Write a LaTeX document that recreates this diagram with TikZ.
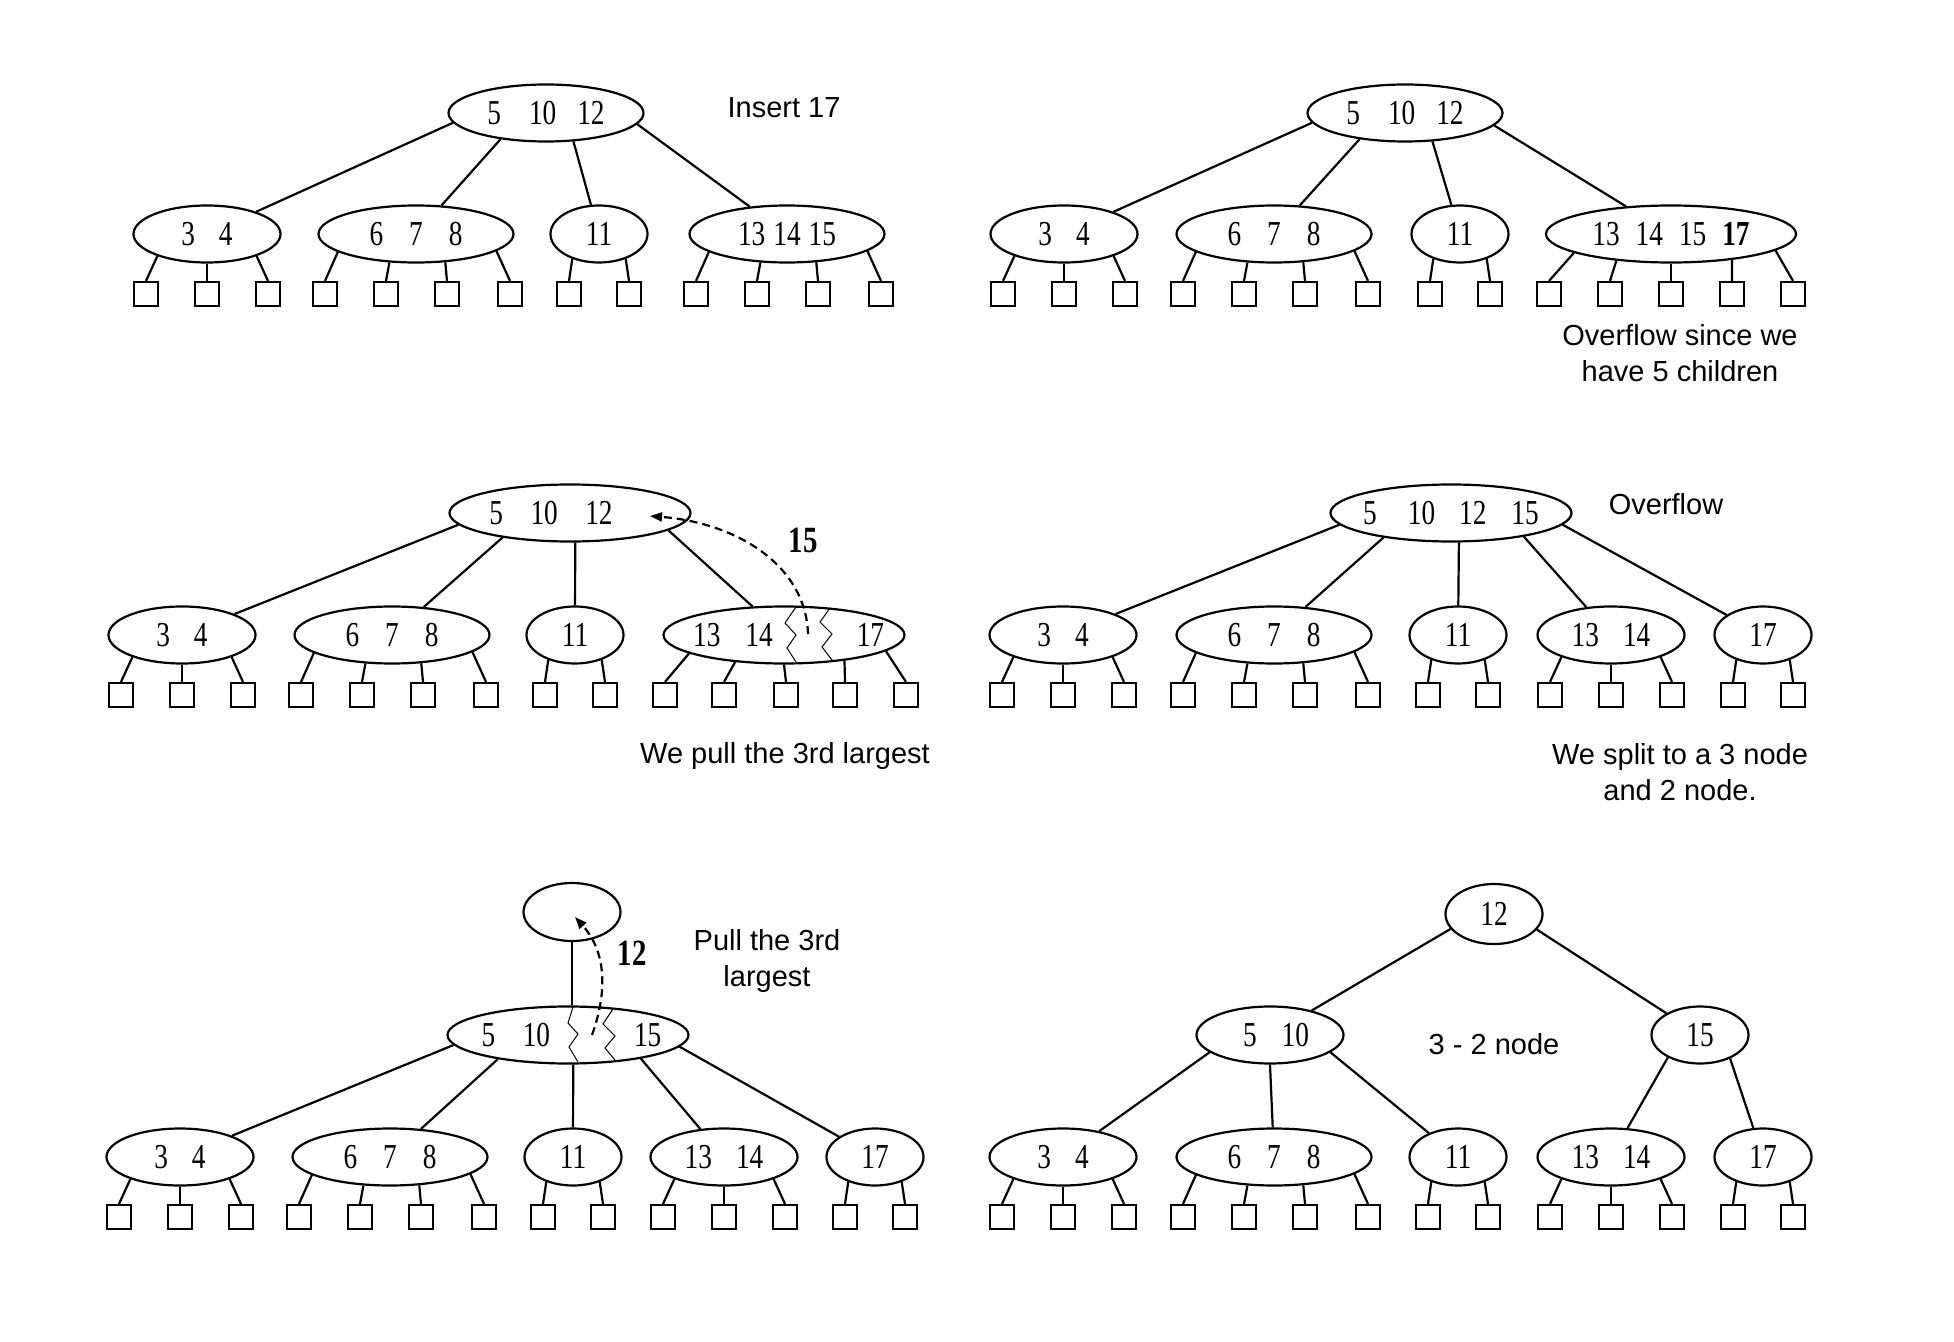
\documentclass[tikz,border=0pt]{standalone}
\usepackage{fontspec}
\setmainfont{Liberation Serif}[FakeStretch=0.78]
\newfontfamily\notefont{Liberation Sans}
\usepackage{tikz}
\usetikzlibrary{shapes.geometric,arrows.meta,calc}

\newcommand{\numfont}{\fontsize{17.5}{20}\selectfont}
\newcommand{\leafsone}{-30/223,30/317}
\newcommand{\leafstwo}{-61/204,0/270,61/336}
\newcommand{\leafsthree}{-91/193,-30/227,31/316,94/348}
\newcommand{\leafsfour}{-122/191,-61/206,0/270,61/337,122/351}
\newcommand{\leafswide}{-119/191,-60/209,2/270,61/337,122/351}
\newcommand{\leafrow}[2]{%
  \foreach \dx/\ang [count=\i] in #2 {
    \node[leaf] (#1-\i) at ($(#1)+(\dx,60)$) {};
    \draw (#1.\ang) -- (#1-\i.north);
  }}

\begin{document}
\begin{tikzpicture}[x=0.5pt,y=-0.5pt,line width=1.1pt,
    knode/.style={draw,ellipse,inner xsep=-40pt,inner ysep=0pt,minimum height=28.5pt,font=\numfont},
    onekey/.style={knode,minimum width=48.5pt},
    twokey/.style={knode,minimum width=73.5pt},
    threekey/.style={knode,minimum width=97.5pt},
    widekey/.style={knode,minimum width=120.5pt},
    fourkey/.style={knode,minimum width=125pt},
    leaf/.style={draw,rectangle,inner sep=0pt,minimum size=12pt},
    remark/.style={font=\notefont\fontsize{14.5}{18}\selectfont,align=center,inner sep=0pt},
    moved/.style={font=\fontsize{18.5}{20}\selectfont\bfseries,inner sep=0pt},
    pulled/.style={dash pattern=on 4pt off 2.5pt,-{Triangle[length=6pt,width=4.5pt]}},
    split/.style={line width=0.5pt}]
  \useasboundingbox (0,0) rectangle (1954,1342);

  % insert 17
  \node[threekey] (ra) at (546,113) {5\hspace{14pt}10\hspace{10.5pt}12};
  \node[twokey] (a34) at (207,234) {3\hspace{12pt}4};
  \node[threekey] (a678) at (416,234) {6\hspace{13pt}7\hspace{13pt}8};
  \node[onekey] (a11) at (599,234) {11};
  \node[threekey] (a1315) at (787,234) {13\hspace{4pt}14\hspace{4pt}15};
  \node[remark] (insert) at (784,108) {Insert 17};
  \draw (ra.186) -- (a34);
  \draw (ra.210) -- (a678);
  \draw (ra.314) -- (a11);
  \draw (ra.353) -- (a1315);
  \leafrow{a34}{\leafstwo}
  \leafrow{a678}{\leafsthree}
  \leafrow{a11}{\leafsone}
  \leafrow{a1315}{\leafsthree}

  % overflow
  \node[threekey] (rb) at (1405,113) {5\hspace{14pt}10\hspace{10.5pt}12};
  \node[twokey] (b34) at (1064,234) {3\hspace{12pt}4};
  \node[threekey] (b678) at (1274,234) {6\hspace{13pt}7\hspace{13pt}8};
  \node[onekey] (b11) at (1460,234) {11};
  \node[fourkey] (b1317) at (1671,234) {13\hspace{8pt}14\hspace{8pt}15\hspace{8pt}\textbf{17}};
  \node[remark] (fivechildren) at (1680,353) {Overflow since we\\have 5 children};
  \draw (rb.186) -- (b34);
  \draw (rb.210) -- (b678);
  \draw (rb.314) -- (b11);
  \draw (rb.352) -- (b1317);
  \leafrow{b34}{\leafstwo}
  \leafrow{b678}{\leafsthree}
  \leafrow{b11}{\leafsone}
  \leafrow{b1317}{\leafsfour}

  % pull 15
  \node[widekey] (rc) at (570,513) {5\hspace{13.75pt}10\hspace{13.75pt}12\kern19pt};
  \node[twokey] (c34) at (182,635) {3\hspace{12pt}4};
  \node[threekey] (c678) at (392,635) {6\hspace{13pt}7\hspace{13pt}8};
  \node[onekey] (c11) at (575,635) {11};
  \node[widekey] (c1317) at (784,635) {\kern4.6pt13\hspace{12.5pt}14\hspace{42pt}17};
  \node[remark] (thirdlargest) at (785,756) {We pull the 3rd largest};
  \draw (rc.186) -- (c34);
  \draw (rc.200) -- (c678);
  \draw (rc.280) -- (c11);
  \draw (rc.350) -- (c1317);
  \leafrow{c34}{\leafstwo}
  \leafrow{c678}{\leafsthree}
  \leafrow{c11}{\leafsone}
  \leafrow{c1317}{\leafswide}
  \draw[split] ($(c1317)+(12,-28)$) -- ++(-11,16) -- ++(11,12) -- ++(-9,13) -- ++(9,14);
  \draw[split] ($(c1317)+(46,-27)$) -- ++(-10,14) -- ++(12,12) -- ++(-10,13) -- ++(10,13);
  \coordinate (pull15) at (808,634);
  \coordinate (land15) at (650,516);
  \draw[pulled] (pull15) .. controls (806,566) and (738,523) .. (land15);
  \node[moved] (fifteen) at (803,540) {15};

  % overflow again
  \node[widekey] (rd) at (1451,513) {5\hspace{15.5pt}10\hspace{12pt}12\hspace{12.5pt}15};
  \node[twokey] (d34) at (1063,635) {3\hspace{12pt}4};
  \node[threekey] (d678) at (1274,635) {6\hspace{13pt}7\hspace{13pt}8};
  \node[onekey] (d11) at (1458,635) {11};
  \node[twokey] (d1314) at (1611,635) {13\hspace{12pt}14};
  \node[onekey] (d17) at (1763,635) {17};
  \node[remark] (overflow) at (1666,504) {Overflow};
  \node[remark] (splitnote) at (1680,772) {We split to a 3 node\\and 2 node.};
  \draw (rd.186) -- (d34);
  \draw (rd.200) -- (d678);
  \draw (rd.285) -- (d11);
  \draw (rd.342) -- (d1314);
  \draw (rd.354) -- (d17);
  \leafrow{d34}{\leafstwo}
  \leafrow{d678}{\leafsthree}
  \leafrow{d11}{\leafsone}
  \leafrow{d1314}{\leafstwo}
  \leafrow{d17}{\leafsone}

  % pull 12
  \node[knode,minimum width=48.5pt,minimum height=29pt] (te) at (572,912) {};
  \node[widekey] (re) at (568,1035) {\kern3.5pt5\hspace{13.75pt}10\hspace{42pt}15};
  \node[twokey] (e34) at (180,1157) {3\hspace{12pt}4};
  \node[threekey] (e678) at (390,1157) {6\hspace{13pt}7\hspace{13pt}8};
  \node[onekey] (e11) at (573,1157) {11};
  \node[twokey] (e1314) at (724,1157) {13\hspace{12pt}14};
  \node[onekey] (e17) at (875,1157) {17};
  \node[remark] (pullnote) at (767,961) {Pull the 3rd\\largest};
  \draw (te.south) -- (te.south |- re.north);
  \draw (re.185) -- (e34);
  \draw (re.199) -- (e678);
  \draw (re.280) -- (e11);
  \draw (re.342) -- (e1314);
  \draw (re.354) -- (e17);
  \leafrow{e34}{\leafstwo}
  \leafrow{e678}{\leafsthree}
  \leafrow{e11}{\leafsone}
  \leafrow{e1314}{\leafstwo}
  \leafrow{e17}{\leafsone}
  \draw[split] ($(re)+(5,-28)$) -- ++(-5,16) -- ++(10,11) -- ++(-9,13) -- ++(9,15);
  \draw[split] ($(re)+(45,-26)$) -- ++(-10,15) -- ++(12,12) -- ++(-10,12) -- ++(10,12);
  \coordinate (pull12) at (592,1035);
  \coordinate (land12) at (575,917);
  \draw[pulled] (pull12) .. controls (610,985) and (603,948) .. (land12);
  \node[moved] (twelve) at (632,953) {12};

  % 3 - 2 node
  \node[knode,minimum width=48.5pt,minimum height=30pt] (rf) at (1494,914) {12};
  \node[twokey] (f510) at (1270,1035) {\kern6pt5\hspace{12.5pt}10};
  \node[onekey] (f15) at (1700,1035) {15};
  \node[twokey] (f34) at (1063,1157) {3\hspace{12pt}4};
  \node[threekey] (f678) at (1274,1157) {6\hspace{13pt}7\hspace{13pt}8};
  \node[onekey] (f11) at (1458,1157) {11};
  \node[twokey] (f1314) at (1611,1157) {13\hspace{12pt}14};
  \node[onekey] (f17) at (1763,1157) {17};
  \node[remark] (threetwo) at (1494,1044) {3 - 2 node};
  \draw (rf.199) -- (f510);
  \draw (rf.340) -- (f15);
  \draw (f510.196) -- (f34);
  \draw (f510.270) -- (f678);
  \draw (f510.344) -- (f11);
  \draw (f15.215) -- (f1314);
  \draw (f15.322) -- (f17);
  \leafrow{f34}{\leafstwo}
  \leafrow{f678}{\leafsthree}
  \leafrow{f11}{\leafsone}
  \leafrow{f1314}{\leafstwo}
  \leafrow{f17}{\leafsone}
\end{tikzpicture}
\end{document}
